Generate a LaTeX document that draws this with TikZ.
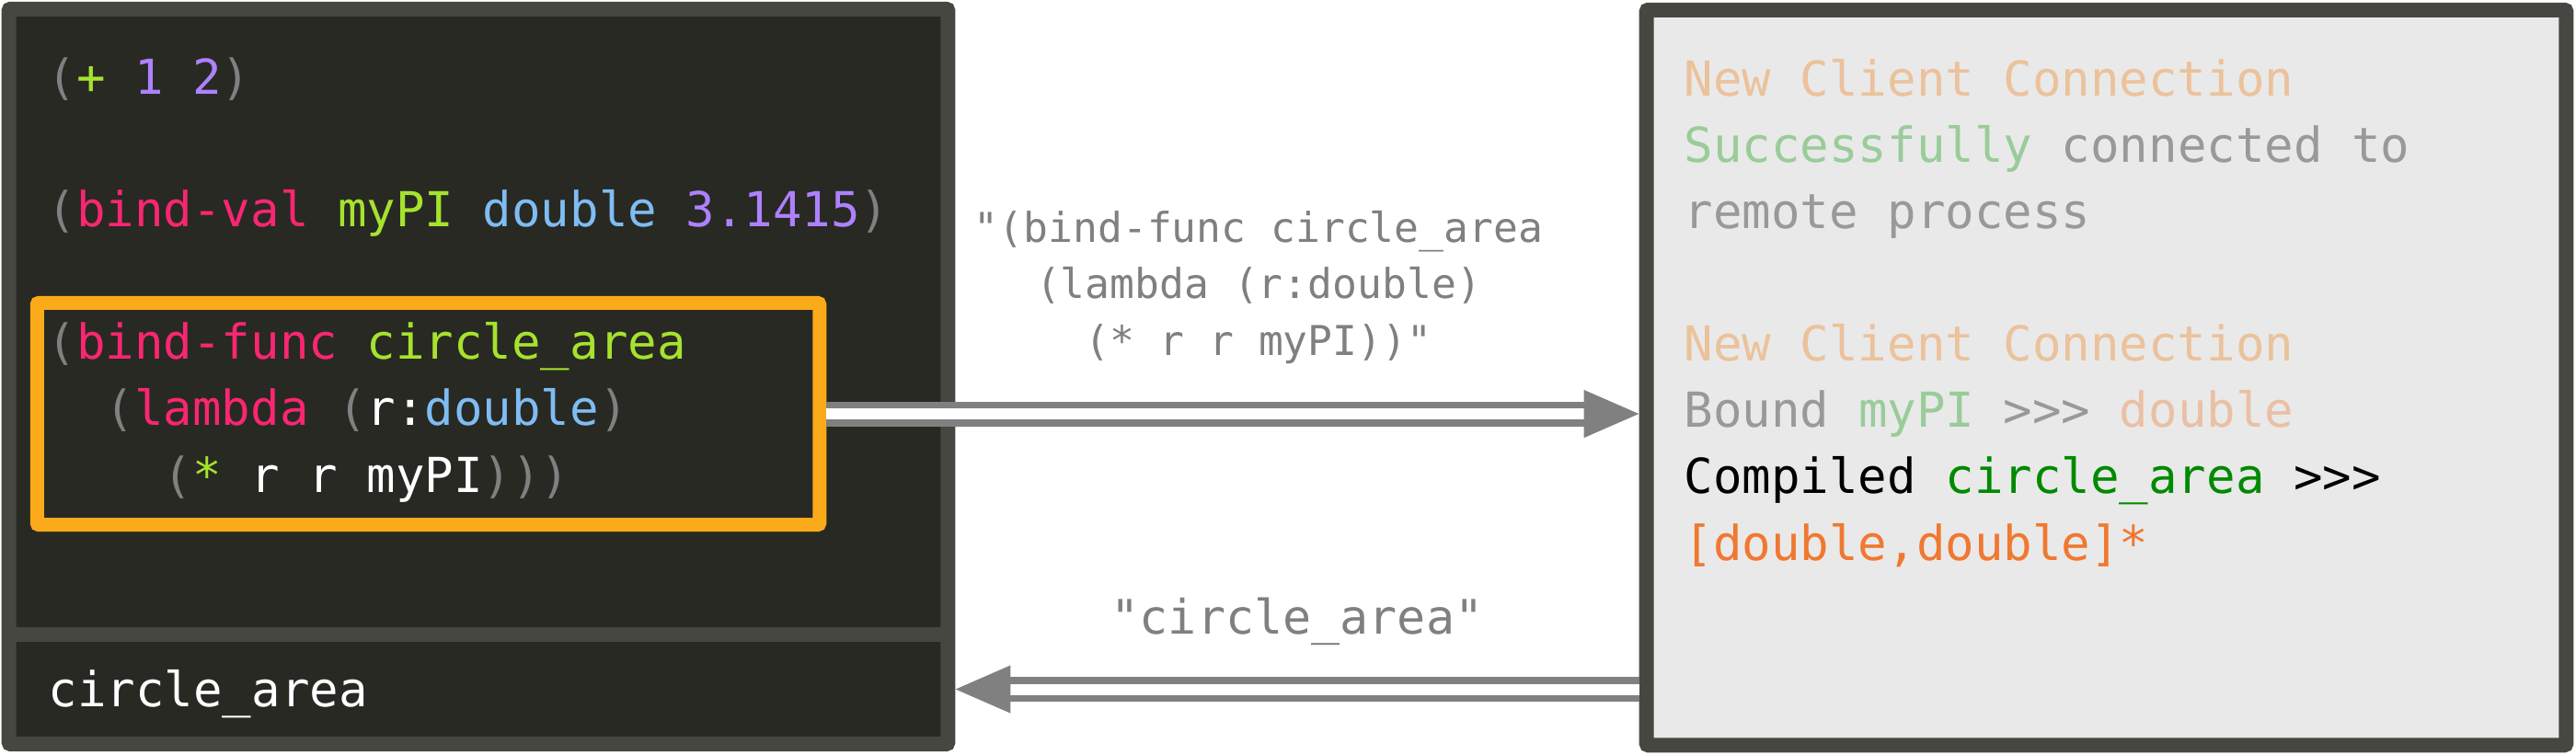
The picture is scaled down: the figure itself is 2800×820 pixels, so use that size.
\documentclass[tikz,border=0pt]{standalone}
\usepackage{fontspec}
\setmonofont{DejaVu Sans Mono}
\usetikzlibrary{arrows.meta}

\definecolor{frame}{HTML}{474742}
\definecolor{codebg}{HTML}{282923}
\definecolor{logbg}{HTML}{E9E9E9}
\definecolor{hilite}{HTML}{FBAA19}
\definecolor{wire}{HTML}{808080}
\definecolor{lpar}{HTML}{808080}
\definecolor{lkw}{HTML}{F92672}
\definecolor{lsym}{HTML}{A6E22E}
\definecolor{lnum}{HTML}{AE81FF}
\definecolor{ltype}{HTML}{7FBCF3}
\definecolor{lognew}{HTML}{EBC29B}
\definecolor{logok}{HTML}{99CC99}
\definecolor{loggray}{HTML}{999999}
\definecolor{logtype}{HTML}{EAC0A4}
\definecolor{logfn}{HTML}{008A00}
\definecolor{logsig}{HTML}{F07830}

\newcommand{\lpa}[1]{\textcolor{lpar}{#1}}
\newcommand{\lkw}[1]{\textcolor{lkw}{#1}}
\newcommand{\lsy}[1]{\textcolor{lsym}{#1}}
\newcommand{\lnu}[1]{\textcolor{lnum}{#1}}
\newcommand{\lty}[1]{\textcolor{ltype}{#1}}

\tikzset{
  panel/.style={draw=frame, line width=0.16cm, rounded corners=0.02cm, inner sep=0pt},
  code/.style={anchor=base west, inner sep=0pt, align=left,
    font=\ttfamily\fontsize{14.9}{20.5}\selectfont},
  pipe/.style={draw=wire, double=white, line width=0.075cm, double distance=0.12cm,
    -{Triangle[length=0.6cm,width=0.5cm]}},
}

\begin{document}
\begin{tikzpicture}[x=0.01cm, y=-0.01cm]
  \useasboundingbox (0,0) rectangle (2800,820);

  % Panels
  \node[panel, fill=codebg, minimum width=10.2cm, minimum height=6.8cm] (editor) at (520,350) {};
  \node[panel, fill=codebg, minimum width=10.2cm, minimum height=1.19cm] (output) at (520,749.5) {};
  \node[panel, fill=logbg, minimum width=9.99cm, minimum height=7.99cm] (log) at (2289.5,410.5) {};
  \node[draw=hilite, line width=0.15cm, rounded corners=0.02cm, inner sep=0pt,
    minimum width=8.5cm, minimum height=2.41cm] (snippet) at (465.5,450) {};

  % Editor text (base = last line)
  \node[code, white] (src) at (51,535) {%
    \lpa{(}\lsy{+} \lnu{1} \lnu{2}\lpa{)}\\ \\
    \lpa{(}\lkw{bind-val} \lsy{myPI} \lty{double} \lnu{3.1415}\lpa{)}\\ \\
    \lpa{(}\lkw{bind-func} \lsy{circle\_area}\\
    \phantom{xx}\lpa{(}\lkw{lambda} \lpa{(}r:\lty{double}\lpa{)}\\
    \phantom{xxxx}\lpa{(}\lsy{*} r r myPI\lpa{)))}};
  \node[code, white] (result) at (52,768) {circle\_area};

  % Log text
  \node[code, loggray] (msgs) at (1830,609) {%
    \textcolor{lognew}{New Client Connection}\\
    \textcolor{logok}{Successfully} connected to\\
    remote process\\ \\
    \textcolor{lognew}{New Client Connection}\\
    Bound \textcolor{logok}{myPI} >{}>{}> \textcolor{logtype}{double}\\
    \textcolor{black}{Compiled \textcolor{logfn}{circle\_area} >{}>{}>}\\
    \textcolor{logsig}{[double,double]*}};

  % Messages
  \draw[pipe] (snippet.east) -- (snippet.east -| log.west);
  \draw[pipe] (log.west |- output.east) -- (output.east);
  \node[anchor=base, inner sep=0pt, align=center, wire,
    font=\ttfamily\fontsize{12.7}{17.4}\selectfont] (request) at (1368,386)
    {"(bind-func circle\_area\\(lambda (r:double)\\(* r r myPI))"};
  \node[anchor=base, inner sep=0pt, wire,
    font=\ttfamily\fontsize{14.7}{20}\selectfont] (reply) at (1410,689) {"circle\_area"};
\end{tikzpicture}
\end{document}
